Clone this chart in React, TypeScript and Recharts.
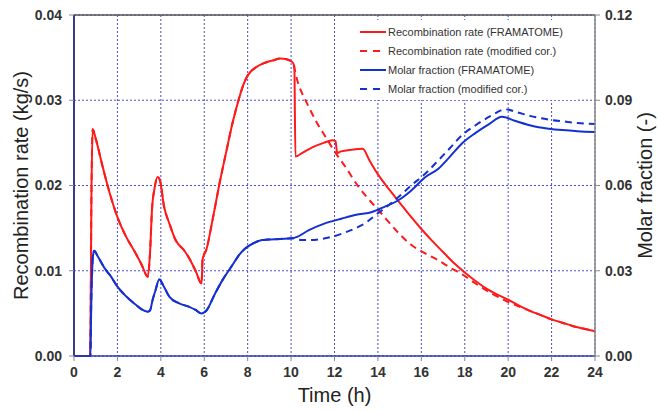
import { LineChart, Line, XAxis, YAxis, CartesianGrid, Legend, ReferenceLine } from 'recharts';

const TIME_TICKS = [0, 2, 4, 6, 8, 10, 12, 14, 16, 18, 20, 22, 24];
const RATE_TICKS = [0, 0.01, 0.02, 0.03, 0.04];
const FRACTION_TICKS = [0, 0.03, 0.06, 0.09, 0.12];

// recombination rate (kg/s), shared part before 10 h
const RATE_COMMON_T = [0, 0.75, 0.8, 0.86, 1.0, 1.32, 1.6, 2.0, 2.4, 2.85, 3.1, 3.4, 3.5, 3.6, 3.7, 3.85, 3.95, 4.15, 4.4, 4.68, 5.07, 5.3, 5.6, 5.88, 5.92, 6.1, 6.4, 6.7, 7.0, 7.3, 7.6, 7.8, 8.0, 8.4, 8.8, 9.2, 9.5, 9.8, 10.05];
const RATE_COMMON_V = [0, 0, 0.018, 0.0266, 0.0255, 0.0222, 0.0195, 0.0163, 0.014, 0.012, 0.0108, 0.0093, 0.012, 0.0175, 0.0195, 0.021, 0.0207, 0.0175, 0.0155, 0.0136, 0.0124, 0.0115, 0.01, 0.0085, 0.0113, 0.0125, 0.0162, 0.0202, 0.0238, 0.0273, 0.0302, 0.0318, 0.0329, 0.0339, 0.0344, 0.0347, 0.0349, 0.0348, 0.0345];

const RATE_FRAMA_T = [10.15, 10.2, 10.5, 11.0, 11.5, 11.9, 12.05, 12.12, 12.3, 12.8, 13.3, 13.6, 14.0, 14.5, 15.0, 15.5, 16.0, 16.5, 17.0, 17.5, 18.0, 18.5, 19.0, 19.5, 20.0, 20.5, 21.0, 21.5, 22.0, 22.5, 23.0, 23.5, 24.0];
const RATE_FRAMA_V = [0.034, 0.0234, 0.0238, 0.0245, 0.025, 0.0253, 0.0252, 0.0238, 0.024, 0.0242, 0.0243, 0.023, 0.0213, 0.0196, 0.018, 0.0164, 0.0149, 0.0135, 0.0122, 0.0109, 0.0098, 0.0088, 0.0079, 0.0072, 0.0066, 0.0059, 0.0053, 0.0048, 0.0043, 0.0039, 0.0035, 0.0032, 0.0029];

const RATE_MOD_T = [10.3, 10.82, 11.2, 11.59, 12.0, 12.5, 13.12, 13.5, 13.89, 14.4, 14.96, 15.5, 16.2, 16.8, 17.3, 17.87, 18.5, 19.2, 19.87, 20.5, 21.0, 21.5, 22.0, 22.5, 23.0, 23.5, 24.0];
const RATE_MOD_V = [0.0322, 0.0292, 0.0273, 0.0257, 0.024, 0.0222, 0.0198, 0.0186, 0.0175, 0.016, 0.0144, 0.0131, 0.012, 0.0112, 0.0104, 0.0096, 0.0085, 0.0074, 0.0065, 0.0058, 0.0053, 0.0048, 0.0043, 0.0039, 0.0035, 0.0032, 0.0029];

// molar fraction (-), shared part before 10 h
const FRAC_COMMON_T = [0, 0.75, 0.8, 0.87, 0.93, 1.1, 1.4, 1.7, 2.0, 2.4, 2.85, 3.1, 3.39, 3.5, 3.62, 3.75, 3.93, 4.1, 4.39, 4.85, 5.31, 5.6, 5.87, 6.1, 6.5, 6.84, 7.3, 7.6, 7.9, 8.22, 8.66, 9.5, 10.05];
const FRAC_COMMON_V = [0, 0, 0.02, 0.035, 0.037, 0.035, 0.031, 0.028, 0.0244, 0.021, 0.018, 0.0165, 0.0156, 0.016, 0.0197, 0.023, 0.027, 0.025, 0.0209, 0.0185, 0.0173, 0.0162, 0.015, 0.016, 0.022, 0.0267, 0.032, 0.0355, 0.0379, 0.0395, 0.0408, 0.0412, 0.0414];

const FRAC_FRAMA_T = [10.3, 10.82, 11.5, 12.35, 13.0, 13.73, 14.3, 14.96, 15.5, 16.19, 16.8, 17.3, 17.87, 18.5, 19.1, 19.71, 20.3, 20.9, 21.4, 21.86, 22.5, 23.2, 24.0];
const FRAC_FRAMA_V = [0.042, 0.0443, 0.0465, 0.0484, 0.0497, 0.0507, 0.0525, 0.0549, 0.058, 0.063, 0.066, 0.07, 0.0748, 0.0785, 0.0815, 0.0842, 0.0828, 0.0814, 0.0805, 0.08, 0.0795, 0.0791, 0.0788];

const FRAC_MOD_T = [10.5, 10.82, 11.4, 11.9, 12.5, 13.12, 13.5, 13.89, 14.4, 14.96, 15.5, 16.19, 16.8, 17.3, 17.87, 18.5, 19.2, 19.87, 20.4, 21.0, 21.86, 22.6, 23.2, 24.0];
const FRAC_MOD_V = [0.0408, 0.0408, 0.0412, 0.042, 0.0435, 0.0455, 0.0472, 0.0496, 0.0525, 0.056, 0.0598, 0.0642, 0.069, 0.073, 0.0777, 0.0812, 0.0845, 0.0868, 0.0858, 0.0845, 0.0832, 0.0825, 0.082, 0.0816];

const RED = '#ff1a1a';
const BLUE = '#1530d0';
const FONT = 'Arial, "Liberation Sans", sans-serif';

const toPoints = (ts: number[], vs: number[]) => ts.map((t, i) => ({ t, v: vs[i] }));

const rateFrama = toPoints([...RATE_COMMON_T, ...RATE_FRAMA_T], [...RATE_COMMON_V, ...RATE_FRAMA_V]);
const rateMod = toPoints([...RATE_COMMON_T, ...RATE_MOD_T], [...RATE_COMMON_V, ...RATE_MOD_V]);
const fracFrama = toPoints([...FRAC_COMMON_T, ...FRAC_FRAMA_T], [...FRAC_COMMON_V, ...FRAC_FRAMA_V]);
const fracMod = toPoints([...FRAC_COMMON_T, ...FRAC_MOD_T], [...FRAC_COMMON_V, ...FRAC_MOD_V]);

const LEGEND_ITEMS = [
  { label: 'Recombination rate (FRAMATOME)', color: RED, dash: undefined },
  { label: 'Recombination rate (modified cor.)', color: RED, dash: '7 6' },
  { label: 'Molar fraction (FRAMATOME)', color: BLUE, dash: undefined },
  { label: 'Molar fraction (modified cor.)', color: BLUE, dash: '7 6' },
];

const renderLegend = () => (
  <div style={{ background: '#fff', padding: '2px 4px', fontFamily: FONT, fontSize: 11, color: '#333' }}>
    {LEGEND_ITEMS.map((item) => (
      <div key={item.label} style={{ display: 'flex', alignItems: 'center', height: 19 }}>
        <svg width={26} height={4}>
          <line x1={0} y1={2} x2={26} y2={2} stroke={item.color} strokeWidth={2} strokeDasharray={item.dash} />
        </svg>
        <span style={{ marginLeft: 2 }}>{item.label}</span>
      </div>
    ))}
  </div>
);

const tickStyle = { fontSize: 14, fill: '#333', fontWeight: 'bold' as const, fontFamily: FONT };
const titleStyle = { fontSize: 20, fill: '#222', fontFamily: FONT, textAnchor: 'middle' as const };

export default function App() {
  return (
    <div style={{ width: 659, height: 412, background: '#fff' }}>
      <style>{'body{margin:0}'}</style>
      <LineChart width={659} height={412} margin={{ top: 15, right: 4, bottom: 26, left: 14 }}>
        <CartesianGrid yAxisId="left" stroke="#4a4ad0" strokeDasharray="2 2" strokeWidth={1} />
        <XAxis
          dataKey="t"
          type="number"
          domain={[0, 24]}
          ticks={TIME_TICKS}
          height={30}
          tick={tickStyle}
          tickSize={5}
          tickMargin={6}
          axisLine={{ stroke: '#2a3ab0', strokeWidth: 1.5 }}
          tickLine={{ stroke: '#888' }}
          label={{ value: 'Time (h)', position: 'bottom', offset: 2, style: titleStyle }}
        />
        <YAxis
          yAxisId="left"
          domain={[0, 0.04]}
          ticks={RATE_TICKS}
          width={60}
          tickFormatter={(v: number) => v.toFixed(2)}
          tick={tickStyle}
          tickSize={5}
          tickMargin={7}
          axisLine={{ stroke: '#3a3a8c', strokeWidth: 2 }}
          tickLine={{ stroke: '#888' }}
          label={{ value: 'Recombination rate (kg/s)', angle: -90, position: 'insideLeft', offset: 7, style: titleStyle }}
        />
        <YAxis
          yAxisId="right"
          orientation="right"
          domain={[0, 0.12]}
          ticks={FRACTION_TICKS}
          width={60}
          tickFormatter={(v: number) => v.toFixed(2)}
          tick={tickStyle}
          tickSize={5}
          tickMargin={5}
          axisLine={{ stroke: '#888', strokeWidth: 1.5 }}
          tickLine={{ stroke: '#888' }}
          label={{ value: 'Molar fraction (-)', angle: -90, position: 'insideRight', offset: 10, style: titleStyle }}
        />
        <ReferenceLine yAxisId="left" y={0.04} stroke="#555" strokeWidth={1.5} />
        <Legend
          layout="horizontal"
          align="center"
          verticalAlign="middle"
          content={renderLegend}
          wrapperStyle={{ top: 20, left: 356, width: 222 }}
        />
        <Line yAxisId="left" data={rateMod} dataKey="v" type="monotone" stroke={RED} strokeWidth={2} strokeDasharray="7 5" dot={false} isAnimationActive={false} />
        <Line yAxisId="left" data={rateFrama} dataKey="v" type="monotone" stroke={RED} strokeWidth={2} dot={false} isAnimationActive={false} />
        <Line yAxisId="right" data={fracMod} dataKey="v" type="monotone" stroke={BLUE} strokeWidth={2} strokeDasharray="7 5" dot={false} isAnimationActive={false} />
        <Line yAxisId="right" data={fracFrama} dataKey="v" type="monotone" stroke={BLUE} strokeWidth={2} dot={false} isAnimationActive={false} />
      </LineChart>
    </div>
  );
}
